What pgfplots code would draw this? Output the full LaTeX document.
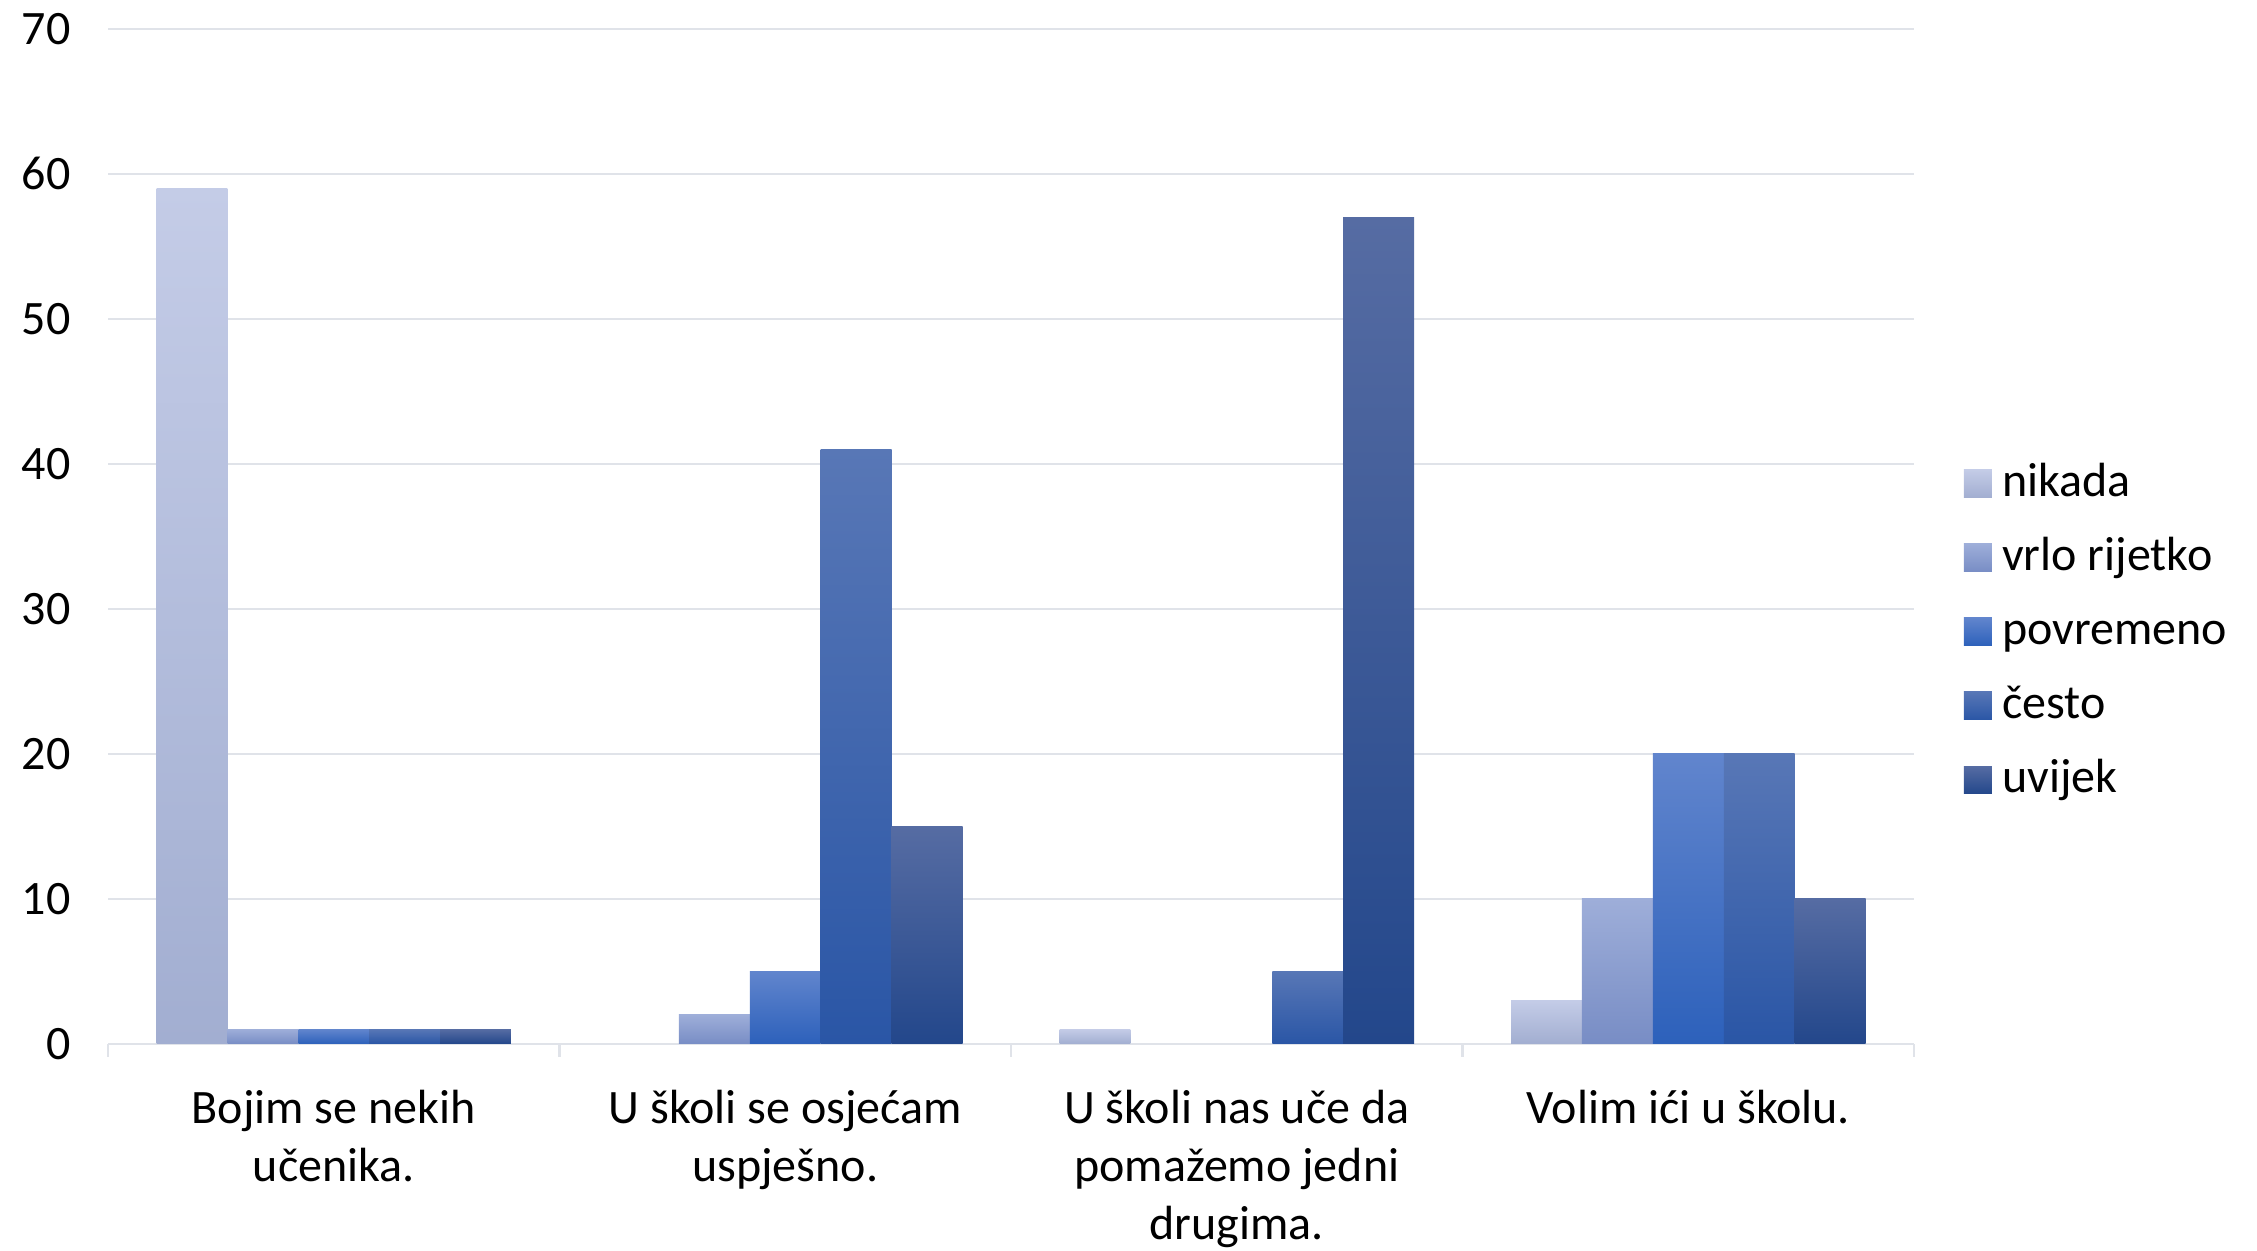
\documentclass[border=0pt]{standalone}
\usepackage{pgfplots}
\pgfplotsset{compat=1.18}
\usepackage{fontspec}
\setmainfont{Carlito}
\definecolor{gridc}{HTML}{E0E3E9}
\definecolor{n1t}{HTML}{C4CCE7}\definecolor{n1b}{HTML}{A2AED1}
\definecolor{n2t}{HTML}{9EAED9}\definecolor{n2b}{HTML}{788DC5}
\definecolor{n3t}{HTML}{6185CD}\definecolor{n3b}{HTML}{2D61BB}
\definecolor{n4t}{HTML}{5877B6}\definecolor{n4b}{HTML}{2A56A6}
\definecolor{n5t}{HTML}{566CA3}\definecolor{n5b}{HTML}{23478B}
\newcommand\cf{\fontsize{16}{19.2}\selectfont}
\pgfplotsset{
  bw/.style={ybar, bar width=0.157, draw=none,
    legend image code/.code={\path[##1] (0pt,-4.65pt) rectangle (9.3pt,4.65pt);}},
  s1/.style={bw, bar shift=-0.314, top color=n1t, bottom color=n1b},
  s2/.style={bw, bar shift=-0.157, top color=n2t, bottom color=n2b},
  s3/.style={bw, bar shift=0, top color=n3t, bottom color=n3b},
  s4/.style={bw, bar shift=0.157, top color=n4t, bottom color=n4b},
  s5/.style={bw, bar shift=0.314, top color=n5t, bottom color=n5b},
}
\begin{document}
\begin{tikzpicture}
\useasboundingbox (-36pt,-68.8pt) rectangle (716.3pt,347.9pt);
\begin{axis}[
  at={(0,0)}, anchor=south west,
  scale only axis, width=602pt, height=338.3pt,
  xmin=-0.5, xmax=3.5, ymin=0, ymax=70,
  separate axis lines,
  axis x line*=bottom, axis y line*=left,
  x axis line style={draw=gridc, line width=0.8pt},
  y axis line style={draw=none},
  ytick={0,10,...,70},
  ymajorgrids, grid style={draw=gridc, line width=0.8pt},
  ytick style={draw=none},
  xtick={0,1,2,3},
  major tick length=0pt,
  minor xtick={-0.5,0.5,1.5,2.5,3.5},
  minor tick length=4.5pt,
  tick align=outside,
  minor x tick style={draw=gridc, line width=0.8pt},
  xticklabels={{Bojim se nekih\\učenika.},{U školi se osjećam\\uspješno.},{U školi nas uče da\\pomažemo jedni\\drugima.},{Volim ići u školu.}},
  xticklabel style={align=center, yshift=-12.1pt},
  yticklabel style={xshift=-9pt},
  tick label style={font=\cf, text=black},
  /pgf/number format/assume math mode=true,
  legend style={at={(1,0.41)}, anchor=west, xshift=16.4pt, yshift=-1.4pt, draw=none, fill=none,
    font=\cf, inner sep=0pt, row sep=7.2pt, column sep=2.5pt,
    nodes={inner sep=1pt, text height=12pt, text depth=3.5pt}},
  legend cell align=left,
]
% nikada
\addplot[s1] coordinates {(0,59)};
\addplot[s1, forget plot] coordinates {(2,1)};
\addplot[s1, forget plot] coordinates {(3,3)};
% vrlo rijetko
\addplot[s2] coordinates {(0,1)};
\addplot[s2, forget plot] coordinates {(1,2)};
\addplot[s2, forget plot] coordinates {(3,10)};
% povremeno
\addplot[s3] coordinates {(0,1)};
\addplot[s3, forget plot] coordinates {(1,5)};
\addplot[s3, forget plot] coordinates {(3,20)};
% cesto
\addplot[s4] coordinates {(0,1)};
\addplot[s4, forget plot] coordinates {(1,41)};
\addplot[s4, forget plot] coordinates {(2,5)};
\addplot[s4, forget plot] coordinates {(3,20)};
% uvijek
\addplot[s5] coordinates {(0,1)};
\addplot[s5, forget plot] coordinates {(1,15)};
\addplot[s5, forget plot] coordinates {(2,57)};
\addplot[s5, forget plot] coordinates {(3,10)};
\legend{nikada, vrlo rijetko, povremeno, često, uvijek}
\end{axis}
\end{tikzpicture}
\end{document}
